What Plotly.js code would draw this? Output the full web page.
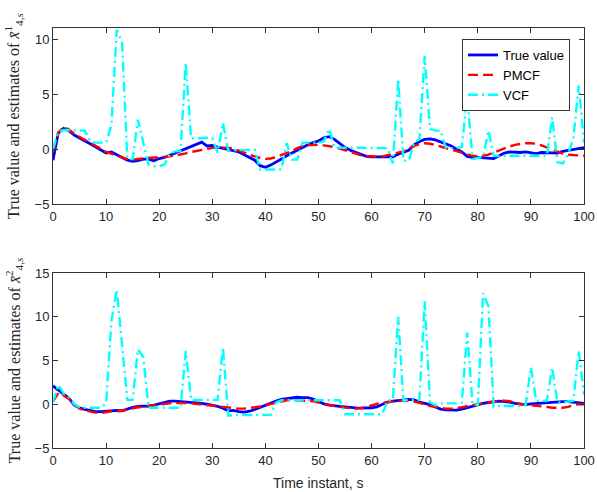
<!DOCTYPE html>
<html>
<head>
<meta charset="utf-8">
<script src="https://cdn.plot.ly/plotly-3.0.1.min.js"></script>
<style>html,body{margin:0;padding:0;background:#fff;}#chart{width:597px;height:492px;}</style>
</head>
<body>
<div id="chart"></div>
<script>
const timeInstants = [0,1,2,3,4,5,6,7,8,9,10,11,12,13,14,15,16,17,18,19,20,21,22,23,24,25,26,27,28,29,30,31,32,33,34,35,36,37,38,39,40,41,42,43,44,45,46,47,48,49,50,51,52,53,54,55,56,57,58,59,60,61,62,63,64,65,66,67,68,69,70,71,72,73,74,75,76,77,78,79,80,81,82,83,84,85,86,87,88,89,90,91,92,93,94,95,96,97,98,99,100];

const trueTop = [-1.0,1.5,1.9,1.7,1.3,1.0,0.75,0.5,0.2,-0.1,
-0.35,-0.25,-0.5,-0.75,-1.0,-1.1,-1.05,-0.9,-0.9,-1.05,
-0.85,-0.75,-0.55,-0.35,-0.15,0.05,0.3,0.5,0.65,0.3,
0.35,0.2,0.1,-0.05,-0.15,-0.25,-0.5,-0.75,-1.0,-1.5,
-1.65,-1.45,-1.2,-0.9,-0.6,-0.35,-0.1,0.2,0.4,0.6,
0.75,1.05,1.15,0.9,0.5,0.15,-0.1,-0.3,-0.5,-0.65,
-0.7,-0.7,-0.72,-0.75,-0.7,-0.45,-0.3,-0.1,0.4,0.7,
0.9,0.95,0.85,0.65,0.45,0.3,0.0,-0.25,-0.65,-0.75,
-0.75,-0.8,-0.85,-0.85,-0.6,-0.35,-0.25,-0.3,-0.3,-0.25,
-0.35,-0.4,-0.3,-0.3,-0.3,-0.35,-0.2,-0.1,0.0,0.1,0.15];

const pmcfTop = [-0.2,1.5,2.05,1.8,1.4,1.1,0.85,0.6,0.35,0.05,
-0.25,-0.45,-0.6,-0.75,-0.9,-0.95,-0.9,-0.8,-0.75,-0.75,
-0.75,-0.72,-0.65,-0.58,-0.5,-0.38,-0.25,-0.15,-0.05,0.05,
0.12,0.15,0.15,0.15,0.05,-0.1,-0.3,-0.5,-0.68,-0.8,
-0.88,-0.85,-0.72,-0.55,-0.35,-0.15,0.1,0.3,0.38,0.4,
0.4,0.35,0.28,0.2,0.05,-0.1,-0.25,-0.4,-0.55,-0.62,
-0.67,-0.68,-0.65,-0.55,-0.4,-0.3,-0.2,0.0,0.3,0.45,
0.55,0.5,0.4,0.25,0.1,-0.05,-0.2,-0.35,-0.5,-0.6,
-0.67,-0.6,-0.5,-0.3,-0.1,0.1,0.25,0.4,0.5,0.55,
0.55,0.5,0.35,0.15,-0.05,-0.25,-0.4,-0.5,-0.55,-0.55,-0.6];

const vcfTop = [0,1.6,1.75,1.75,1.75,1.75,1.7,0.7,0.6,0.6,
0.6,2.2,10.9,9.8,-0.9,-0.9,2.7,0.6,-1.4,-1.55,
-1.55,-1.4,-0.4,-0.2,-0.2,7.9,1.0,1.0,1.05,1.05,
1.0,-0.3,2.4,-0.15,-0.1,-0.1,-0.1,-0.05,-0.05,-1.85,
-1.85,-1.85,-1.85,-1.85,0.55,-0.95,-0.95,0.6,0.6,0.6,
0.6,0.7,1.85,0.15,0.15,0.1,0.1,0.1,0.1,0.1,
0.1,0.1,0.1,0.1,-1.3,6.4,-1.05,-1.05,0.6,0.9,
8.5,1.85,1.7,1.7,0.1,0.1,0.1,0.2,4.9,-0.9,
-0.8,-0.7,1.7,-0.6,-0.6,-0.6,-0.6,-0.6,-0.6,-0.6,
-0.6,-0.6,-0.6,-0.6,2.9,-1.2,-1.3,-0.5,1.0,5.8,0.6];

const trueBottom = [2.1,1.6,1.1,0.7,-0.1,-0.4,-0.6,-0.75,-0.85,-0.85,
-0.8,-0.7,-0.7,-0.75,-0.55,-0.35,-0.25,-0.25,-0.2,-0.1,
0.05,0.2,0.35,0.35,0.3,0.3,0.22,0.15,0.1,0.0,
-0.1,-0.25,-0.45,-0.75,-0.7,-0.85,-0.9,-0.8,-0.6,-0.35,
-0.1,0.1,0.35,0.55,0.65,0.75,0.8,0.75,0.75,0.6,
0.35,0.05,-0.1,-0.2,-0.25,-0.3,-0.38,-0.42,-0.45,-0.45,
-0.4,-0.3,0.0,0.25,0.35,0.4,0.5,0.55,0.5,0.25,
0.1,-0.05,-0.3,-0.55,-0.65,-0.68,-0.68,-0.55,-0.38,-0.2,
0.0,0.1,0.2,0.3,0.35,0.3,0.25,0.1,0.0,-0.05,
0.05,0.1,0.1,0.15,0.2,0.25,0.3,0.3,0.25,0.15,0.1];

const pmcfBottom = [0.3,1.3,1.0,0.6,0.0,-0.5,-0.7,-0.85,-0.95,-1.0,
-0.9,-0.8,-0.8,-0.75,-0.6,-0.45,-0.35,-0.3,-0.25,-0.15,
-0.05,0.05,0.1,0.12,0.15,0.15,0.1,0.05,0.0,-0.05,
-0.15,-0.22,-0.3,-0.38,-0.45,-0.5,-0.5,-0.45,-0.35,-0.25,
-0.1,0.05,0.2,0.35,0.45,0.5,0.45,0.42,0.4,0.35,
0.2,0.05,-0.1,-0.2,-0.3,-0.4,-0.45,-0.5,-0.45,-0.3,
-0.1,0.05,0.15,0.25,0.35,0.4,0.4,0.38,0.3,0.15,
-0.05,-0.2,-0.3,-0.4,-0.5,-0.5,-0.45,-0.35,-0.2,-0.1,
0.0,0.15,0.25,0.35,0.4,0.4,0.35,0.2,0.0,-0.05,
-0.1,-0.15,-0.2,-0.3,-0.4,-0.42,-0.4,-0.3,-0.1,0.0,0.0];

const vcfBottom = [0.2,2.2,1.2,0.8,0.0,-0.35,-0.4,-0.4,-0.4,-0.4,
0.1,9.5,13.1,6.5,0.5,0.5,6.3,5.4,-0.4,-0.4,
-0.4,-0.4,-0.4,-0.4,-0.4,6.1,0.5,0.5,0.5,0.5,
0.5,0.5,6.5,-1.3,-1.25,-1.25,-1.25,-1.25,-1.25,-1.25,
-1.2,-1.2,0.2,0.45,0.45,0.45,0.45,0.45,0.45,0.45,
0.45,0.45,0.45,0.45,0.45,-1.15,-1.15,-1.15,-1.15,-1.15,
-1.15,-1.15,-1.15,0.4,0.5,10.0,0.4,0.5,0.5,0.5,
11.8,0.2,-0.1,0.1,0.1,0.1,0.1,0.2,8.2,0.0,
-0.1,12.7,11.2,-0.3,-0.2,-0.2,-0.2,-0.2,-0.2,-0.1,
4.2,0.4,0.4,0.4,4.2,0.2,0.2,0.3,0.4,6.1,1.1];

const seriesNames = ['True value', 'PMCF', 'VCF'];
const xTicks = [0,10,20,30,40,50,60,70,80,90,100];
const yTicksTop = [-5,0,5,10];
const yTicksBottom = [-5,0,5,10,15];

const styles = [
  {color: '#0000FF', width: 2.8, dash: 'solid'},
  {color: '#FF0000', width: 2.4, dash: '10px,5px'},
  {color: '#00FFFF', width: 2.4, dash: '10px,4px,2px,4px'}
];

function makeTrace(y, i, xa, ya, showLegend) {
  return {
    x: timeInstants, y: y, type: 'scatter', mode: 'lines',
    name: seriesNames[i], xaxis: xa, yaxis: ya, showlegend: showLegend,
    line: {color: styles[i].color, width: styles[i].width, dash: styles[i].dash}
  };
}

const data = [
  makeTrace(trueTop, 0, 'x', 'y', true),
  makeTrace(pmcfTop, 1, 'x', 'y', true),
  makeTrace(vcfTop, 2, 'x', 'y', true),
  makeTrace(trueBottom, 0, 'x2', 'y2', false),
  makeTrace(pmcfBottom, 1, 'x2', 'y2', false),
  makeTrace(vcfBottom, 2, 'x2', 'y2', false)
];

const axisColor = '#333333';
const tickFont = {family: 'Liberation Sans, Arial, sans-serif', size: 13, color: '#262626'};
function xAxis(anchor) {
  return {anchor: anchor, range: [0, 100], tickvals: xTicks, ticks: 'inside', ticklen: 5,
    tickcolor: axisColor, showline: true, linecolor: axisColor, linewidth: 1, mirror: 'ticks',
    showgrid: false, zeroline: false, tickfont: tickFont, domain: [0, 1]};
}
function yAxis(anchor, range, ticks, domain) {
  return {anchor: anchor, range: range, tickvals: ticks, ticks: 'inside', ticklen: 5,
    tickcolor: axisColor, showline: true, linecolor: axisColor, linewidth: 1, mirror: 'ticks',
    showgrid: false, zeroline: false, tickfont: tickFont, domain: domain};
}

const serif = {family: 'Liberation Serif, Times New Roman, serif', size: 16, color: '#262626'};

const layout = {
  width: 597, height: 492,
  margin: {l: 52.5, r: 13, t: 28, b: 44},
  paper_bgcolor: '#ffffff', plot_bgcolor: '#ffffff',
  showlegend: true,
  legend: {x: 0.9737, y: 0.9738, xanchor: 'right', yanchor: 'top',
    bgcolor: '#ffffff', bordercolor: axisColor, borderwidth: 1,
    font: {family: 'Liberation Sans, Arial, sans-serif', size: 13, color: '#000000'},
    tracegroupgap: 0},
  xaxis: xAxis('y'),
  yaxis: yAxis('x', [-5, 11.07], yTicksTop, [0.581, 1]),
  xaxis2: xAxis('y2'),
  yaxis2: yAxis('x2', [-5, 15], yTicksBottom, [0, 0.4167]),
  annotations: [
    {text: 'True value and estimates of <i>x̄</i><sup>1</sup><sub>4,<i>s</i></sub>', xref: 'paper', yref: 'paper',
     x: -0.074, y: 0.79, xanchor: 'center', yanchor: 'middle', textangle: -90, showarrow: false, font: serif},
    {text: 'True value and estimates of <i>x̄</i><sup>2</sup><sub>4,<i>s</i></sub>', xref: 'paper', yref: 'paper',
     x: -0.074, y: 0.208, xanchor: 'center', yanchor: 'middle', textangle: -90, showarrow: false, font: serif},
    {text: 'Time instant, s', xref: 'paper', yref: 'paper', x: 0.5, y: -0.083,
     xanchor: 'center', yanchor: 'middle', showarrow: false,
     font: {family: 'Liberation Sans, Arial, sans-serif', size: 14, color: '#262626'}}
  ]
};

Plotly.newPlot('chart', data, layout, {displayModeBar: false, staticPlot: true});
</script>
</body>
</html>
